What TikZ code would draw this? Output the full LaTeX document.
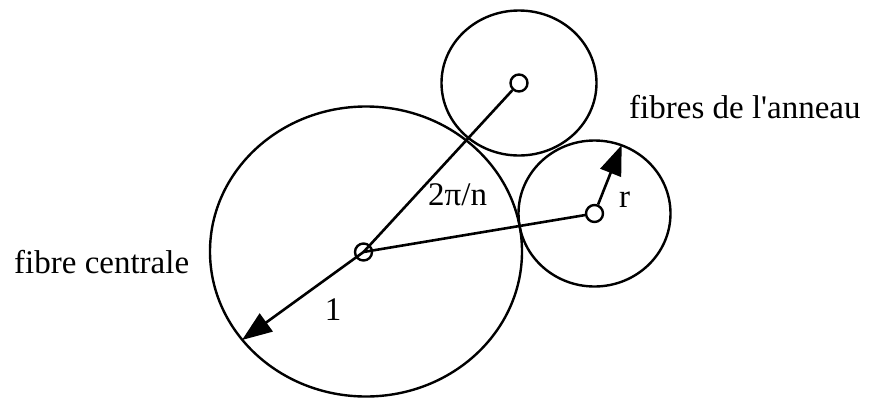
\documentclass[tikz,border=0pt]{standalone}
\usepackage{fontspec}
\newfontfamily\lab{Liberation Serif}
\usetikzlibrary{arrows.meta}
\begin{document}
\begin{tikzpicture}[x=1pt,y=-1pt,
  fibre/.style={line width=2.4pt},
  marker/.style={draw,circle,line width=2.4pt,minimum size=17pt,inner sep=0pt},
  conn/.style={line width=2.6pt},
  radarrow/.style={line width=2.6pt,-{Triangle[length=30pt,width=22pt]}},
  lbl/.style={inner sep=0pt,font=\lab\fontsize{33}{40}\selectfont}]
\useasboundingbox (0,0) rectangle (878,400);
% fibres
\draw[fibre] (366,251.5) ellipse [x radius=156, y radius=145];
\draw[fibre] (519,83) ellipse [x radius=77.5, y radius=72.5];
\draw[fibre] (594.5,213.5) ellipse [x radius=76, y radius=73];
% centre markers
\node[marker] (mB) at (363.5,252) {};
\node[marker] (mT) at (519,83) {};
\node[marker] (mR) at (594.5,213.5) {};
% radius end points
\coordinate (tipB) at (242,340);
\coordinate (tipR) at (621.7,145);
% connectors
\draw[conn] (mB.center) -- (mT);
\draw[conn] (mB.center) -- (mR);
\draw[radarrow] (mB.center) -- (tipB);
\draw[radarrow] (mR) -- (tipR);
% labels
\node[lbl,anchor=base west] (tC) at (14,273) {fibre centrale};
\node[lbl,anchor=base west] (tA) at (629,118) {fibres de l'anneau};
\node[lbl,anchor=base west] (tN) at (428,205) {2π/n};
\node[lbl,anchor=base] (tOne) at (333,320) {1};
\node[lbl,anchor=base west] (tR) at (619,207) {r};
\end{tikzpicture}
\end{document}
